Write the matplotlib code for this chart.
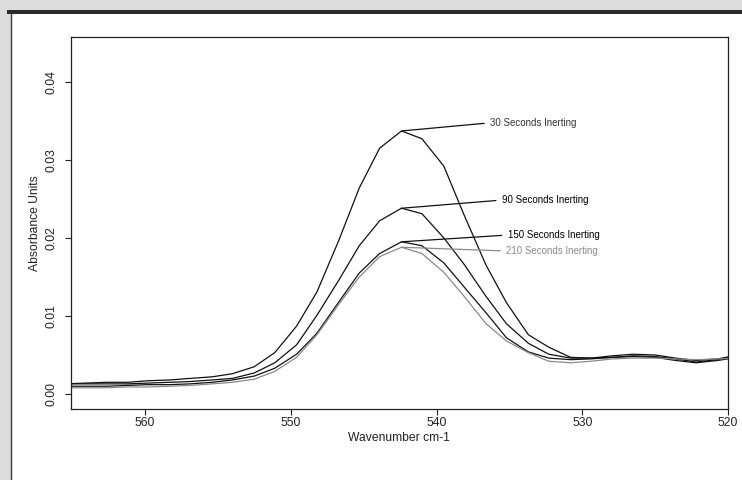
import matplotlib
matplotlib.use("Agg")
import matplotlib.pyplot as plt
from matplotlib.patches import Rectangle
from matplotlib.lines import Line2D

plt.rcParams['font.family'] = ['Liberation Sans', 'DejaVu Sans']

wavenumber = [565.5, 564.1, 562.6, 561.2, 559.8, 558.3, 556.9, 555.4, 554.0, 552.5,
              551.1, 549.6, 548.2, 546.7, 545.3, 543.9, 542.4, 541.0, 539.5, 538.1,
              536.6, 535.2, 533.7, 532.3, 530.8, 529.4, 527.9, 526.5, 525.0, 523.6,
              522.2, 520.7, 519.3]

abs_30 = [0.0013, 0.0014, 0.0015, 0.0015, 0.0017, 0.0018, 0.0020, 0.0022, 0.0026, 0.0035,
          0.0053, 0.0087, 0.0131, 0.0197, 0.0264, 0.0315, 0.0337, 0.0327, 0.0292, 0.0229,
          0.0165, 0.0117, 0.0076, 0.0060, 0.0047, 0.0046, 0.0049, 0.0051, 0.0050, 0.0046,
          0.0043, 0.0045, 0.0050]
abs_90 = [0.0013, 0.0013, 0.0013, 0.0013, 0.0014, 0.0015, 0.0016, 0.0018, 0.0020, 0.0027,
          0.0040, 0.0063, 0.0101, 0.0146, 0.0190, 0.0222, 0.0238, 0.0231, 0.0200, 0.0166,
          0.0125, 0.0090, 0.0065, 0.0051, 0.0046, 0.0046, 0.0047, 0.0049, 0.0048, 0.0045,
          0.0041, 0.0044, 0.0049]
abs_150 = [0.0010, 0.0010, 0.0010, 0.0011, 0.0012, 0.0012, 0.0013, 0.0015, 0.0018, 0.0023,
           0.0033, 0.0051, 0.0078, 0.0118, 0.0155, 0.0180, 0.0195, 0.0190, 0.0168, 0.0137,
           0.0104, 0.0072, 0.0054, 0.0046, 0.0044, 0.0045, 0.0047, 0.0048, 0.0047, 0.0043,
           0.0040, 0.0043, 0.0047]
abs_210 = [0.0008, 0.0008, 0.0008, 0.0009, 0.0009, 0.0010, 0.0011, 0.0013, 0.0015, 0.0019,
           0.0029, 0.0047, 0.0076, 0.0115, 0.0150, 0.0176, 0.0188, 0.0180, 0.0156, 0.0125,
           0.0090, 0.0068, 0.0053, 0.0042, 0.0040, 0.0042, 0.0045, 0.0046, 0.0046, 0.0045,
           0.0044, 0.0045, 0.0046]

series_labels = ["30 Seconds Inerting", "90 Seconds Inerting",
                 "150 Seconds Inerting", "210 Seconds Inerting"]
x_ticks = [560, 550, 540, 530, 520]
y_ticks = [0.00, 0.01, 0.02, 0.03, 0.04]
y_tick_labels = ["0.00", "0.01", "0.02", "0.03", "0.04"]

W, H = 742, 480
fig = plt.figure(figsize=(W / 100, H / 100), dpi=100)
fig.patch.set_facecolor('#dcdcdc')

def fx(px):
    return px / W

def fy(py):
    return 1 - py / H

# white panel with dark top bar and thin left border
fig.patches.append(Rectangle((fx(10.5), 0), 1 - fx(10.5), fy(13.5), transform=fig.transFigure,
                             facecolor='white', edgecolor='none', zorder=-3))
fig.patches.append(Rectangle((fx(7.5), fy(13.5)), 1 - fx(7.5), (13.5 - 9.5) / H,
                             transform=fig.transFigure, facecolor='#2b2b2b',
                             edgecolor='none', zorder=-2))
fig.lines.append(Line2D([fx(10.5), fx(10.5)], [0, fy(13.5)], transform=fig.transFigure,
                        color='#3a3a3a', lw=1.0, zorder=-2))

ax = fig.add_axes([fx(70.7), fy(409), fx(728) - fx(70.7), (409 - 37.3) / H])
ax.set_zorder(2)
ax.set_facecolor('white')

colors = ['#111111', '#111111', '#111111', '#8a8a8a']
data = [abs_30, abs_90, abs_150, abs_210]
for vals, c in zip(data, colors):
    ax.plot(wavenumber, vals, color=c, lw=0.9)

ax.set_xlim(565.1, 520)
ax.set_ylim(-0.00192, 0.0457)
ax.set_xticks(x_ticks)
ax.set_xticklabels([str(t) for t in x_ticks])
ax.set_yticks(y_ticks)
ax.set_yticklabels(y_tick_labels, rotation=90, va='center')

for s in ax.spines.values():
    s.set_linewidth(0.9)
    s.set_color('#222222')

ax.tick_params(axis='both', length=4.5, width=0.8, labelsize=8.7, colors='#222222')
ax.tick_params(axis='x', pad=1.0)
ax.tick_params(axis='y', pad=5)
ax.set_xlabel("Wavenumber cm-1", fontsize=8.7, color='#222222', labelpad=2.5)
ax.set_ylabel("Absorbance Units", fontsize=8.7, color='#222222', labelpad=3)

# annotations from peak points
peak_idx = 16
text_pos = [(536.3, 0.03475), (535.5, 0.02485), (535.1, 0.02037), (535.2, 0.01832)]
text_colors = ['#333333', '#000000', '#000000', '#8a8a8a']
line_colors = ['#111111', '#111111', '#111111', '#8a8a8a']
for vals, lab, pos, tc, lc in zip(data, series_labels, text_pos, text_colors, line_colors):
    ax.annotate(lab, xy=(wavenumber[peak_idx], vals[peak_idx]), xytext=pos,
                textcoords='data', fontsize=7, color=tc, ha='left', va='center',
                arrowprops=dict(arrowstyle='-', color=lc, lw=0.9, shrinkA=2.5, shrinkB=0,
                                relpos=(0, 0.5)))

fig.savefig("out.png", dpi=100, facecolor=fig.get_facecolor())
